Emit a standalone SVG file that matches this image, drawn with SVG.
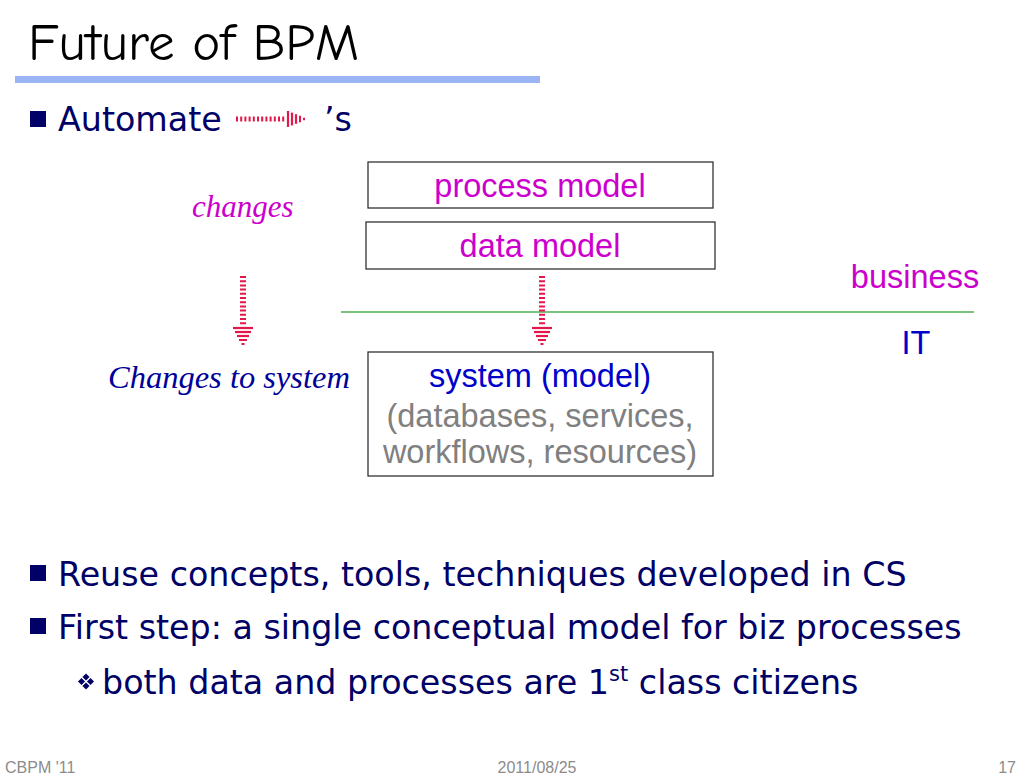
<svg xmlns="http://www.w3.org/2000/svg" width="1023" height="780" viewBox="0 0 1023 780">
<style>
.title{font-family:"Comic Sans MS","Comic Neue","DejaVu Sans",sans-serif;font-size:53px;fill:#000}
.body{font-family:"DejaVu Sans","Noto Sans",sans-serif;font-size:33.3px;fill:#000066}
.box{fill:#fff;stroke:#333;stroke-width:1.3}
.bt{font-family:"Liberation Sans",Arial,sans-serif;font-size:32.5px;text-anchor:middle}
.mag{fill:#cc00cc}
.blue{fill:#0000cc}
.gray{fill:#808080}
.ital{font-family:"Liberation Serif","Times New Roman",serif;font-style:italic}
.foot{font-family:"Liberation Sans Narrow","Liberation Sans",sans-serif;font-size:16px;fill:#8c8c8c}
.ar{stroke:#e3174a;fill:none}
</style>
<defs>
<g id="darrow">
<line class="ar" x1="0" y1="0" x2="0" y2="49" stroke-width="6" stroke-dasharray="2 2.2"/>
<line class="ar" x1="-10" y1="52" x2="10" y2="52" stroke-width="2.2"/>
<line class="ar" x1="-8" y1="56" x2="8" y2="56" stroke-width="2.2"/>
<line class="ar" x1="-6" y1="60" x2="6" y2="60" stroke-width="2.2"/>
<line class="ar" x1="-4" y1="64" x2="4" y2="64" stroke-width="2"/>
<line class="ar" x1="-1.5" y1="68" x2="1.5" y2="68" stroke-width="2"/>
</g>
</defs>
<g id="title">
<text class="title" x="28" y="60">Future of BPM</text>
<rect x="15" y="76" width="525" height="7" fill="#9bb4f4"/>
</g>
<g id="bullet1">
<rect x="30" y="111" width="16" height="16" fill="#000066"/>
<text class="body" x="58" y="131">Automate</text>
<use href="#darrow" transform="translate(236,119) rotate(-90) scale(0.8,1)"/>
<text class="body" x="324" y="131">’s</text>
</g>
<g id="process-model">
<rect class="box" x="368" y="162" width="345" height="46"/>
<text class="bt mag" x="540" y="197">process model</text>
</g>
<g id="data-model">
<rect class="box" x="366" y="222" width="349" height="47"/>
<text class="bt mag" x="540" y="257">data model</text>
</g>
<g id="changes">
<text class="ital mag" x="192" y="217" font-size="31">changes</text>
</g>
<g id="business">
<text class="bt mag" x="915" y="288">business</text>
</g>
<g id="it">
<text class="bt blue" x="916" y="354">IT</text>
</g>
<g id="changes-to-system">
<text class="ital" x="108" y="388" font-size="32.5" fill="#000099">Changes to system</text>
</g>
<g id="system-model">
<rect class="box" x="368" y="352" width="345" height="124"/>
<text class="bt blue" x="540" y="387">system (model)</text>
<text class="bt gray" x="540" y="427">(databases, services,</text>
<text class="bt gray" x="540" y="463">workflows, resources)</text>
</g>
<g id="connectors">
<line x1="341" y1="312" x2="974" y2="312" stroke="#4caf50" stroke-width="1.3"/>
<use href="#darrow" x="243" y="276"/>
<use href="#darrow" x="542" y="276"/>
</g>
<g id="bullets">
<rect x="30" y="565" width="16" height="16" fill="#000066"/>
<text class="body" x="58" y="586">Reuse concepts, tools, techniques developed in CS</text>
<rect x="30" y="618" width="16" height="16" fill="#000066"/>
<text class="body" x="58" y="639">First step: a single conceptual model for biz processes</text>
<g fill="#000066">
<rect x="79" y="679" width="5" height="5" transform="rotate(45 81.5 681.5)"/>
<rect x="88" y="679" width="5" height="5" transform="rotate(45 90.5 681.5)"/>
<rect x="83.5" y="674.5" width="5" height="5" transform="rotate(45 86 677)"/>
<rect x="83.5" y="683.5" width="5" height="5" transform="rotate(45 86 686)"/>
</g>
<text class="body" x="102" y="694">both data and processes are 1<tspan font-size="21" dy="-13">st</tspan><tspan dy="13"> class citizens</tspan></text>
</g>
<g id="footer">
<text class="foot" x="5" y="773">CBPM '11</text>
<text class="foot" x="537" y="773" text-anchor="middle">2011/08/25</text>
<text class="foot" x="1016" y="773" text-anchor="end">17</text>
</g>
</svg>
